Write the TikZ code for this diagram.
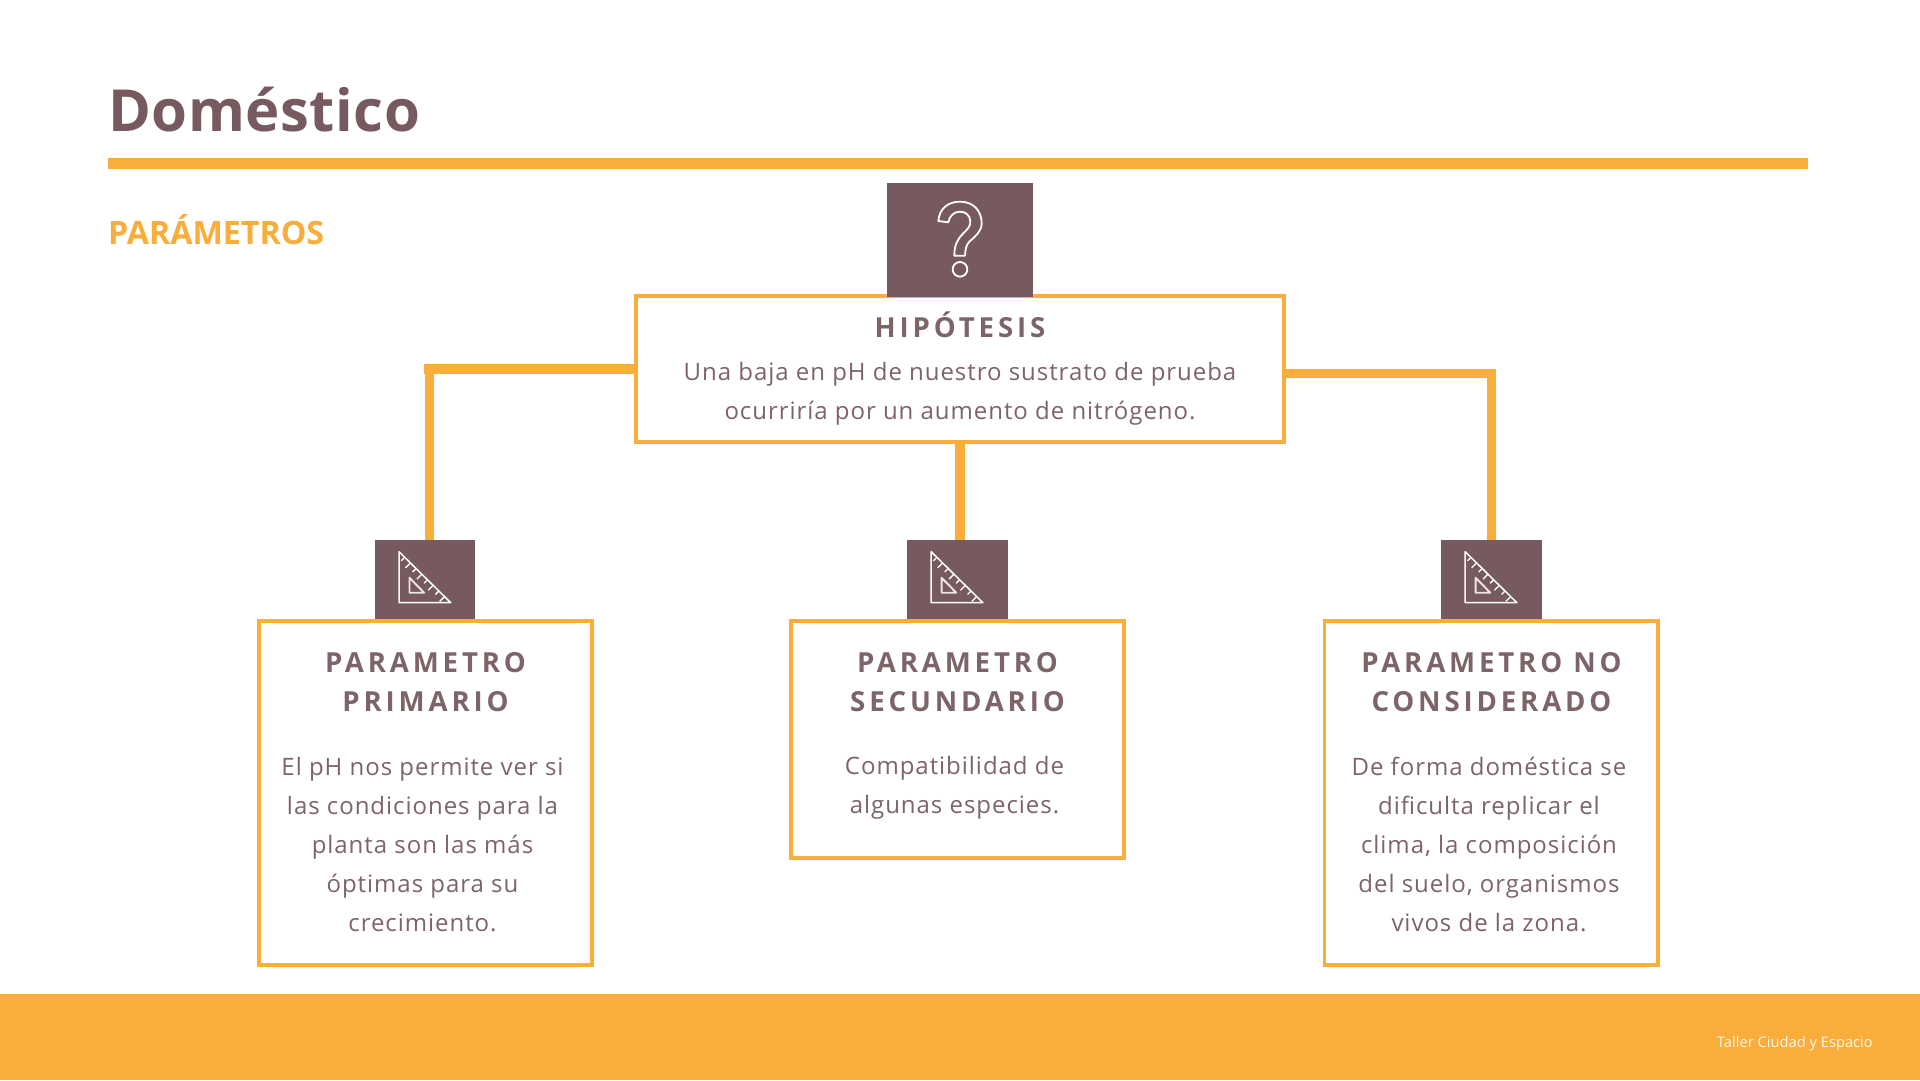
\documentclass[tikz,border=0pt]{standalone}
\usepackage{fontspec}
\setmainfont{Open Sans}
\newfontfamily\bodyfont[LetterSpace=4]{Open Sans}
\newfontfamily\headfont[LetterSpace=14,BoldFont={Open Sans Bold}]{Open Sans}
\newfontfamily\titlefont[LetterSpace=1]{Open Sans}
\definecolor{brownc}{HTML}{775A5F}
\definecolor{bodyc}{HTML}{7D6468}
\definecolor{orangec}{HTML}{F9AD3A}
\tikzset{
  x=1pt,y=-1pt,
  panel/.style={draw=orangec,line width=3.8pt,fill=white,inner sep=0pt,outer sep=0pt},
  iconbox/.style={fill=brownc,inner sep=0pt,outer sep=0pt},
  conn/.style={draw=orangec,line width=9.6pt,line join=miter},
  bodytext/.style={text=bodyc,align=center,inner sep=0pt,font=\fontsize{24}{39}\selectfont\bodyfont},
  headtext/.style={text=bodyc,align=center,inner sep=0pt,font=\fontsize{27.6}{39}\selectfont\headfont\bfseries},
  glyph/.style={draw=white,line width=1.5pt,line join=round},
  squarepic/.pic={
    \draw[glyph] (24.3,11.7) -- (24.3,62.7) -- (76,62.7) -- cycle;
    \draw[glyph,line width=1.9pt,draw=white!85!brownc] (34.7,37.7) -- (34.7,52.7) -- (49.3,52.7) -- cycle;
    \foreach \t/\l in {0.11/5,0.22/7,0.33/5,0.44/7,0.55/5,0.66/7,0.77/5,0.88/7}{
      \draw[white,line width=1.3pt] ({24.3+\t*51.7},{11.7+\t*51}) -- ++({-0.7*\l},{0.7*\l});
    }
  }
}
\begin{document}
\begin{tikzpicture}
\useasboundingbox (0,0) rectangle (1920,1080);
\fill[white] (0,0) rectangle (1920,1080);
% fixed bands
\node[fill=orangec,inner sep=0pt,minimum width=1700pt,minimum height=11pt,anchor=north west] (rule) at (108,158) {};
\node[fill=orangec,inner sep=0pt,minimum width=1920pt,minimum height=86pt,anchor=north west] (band) at (0,994) {};
\node[anchor=base west,inner sep=0pt,text=brownc,font=\fontsize{58}{60}\selectfont\titlefont\bfseries] (title) at (108,131) {Doméstico};
\node[anchor=base west,inner sep=0pt,text=orangec,font=\fontsize{32.2}{36}\selectfont\bfseries] (section) at (108,244.5) {PARÁMETROS};
\node[anchor=base east,inner sep=0pt,text=white!90!orangec,font=\fontsize{14.7}{18}\selectfont] (foot) at (1873,1047) {Taller Ciudad y Espacio};
% panels
\node[panel,minimum width=648pt,minimum height=146pt] (hyp) at (960,369) {};
\node[iconbox,minimum width=146pt,minimum height=114pt] (qbox) at (960,240) {};
\node[panel,minimum width=333.5pt,minimum height=344.5pt] (p1) at (425.5,793) {};
\node[panel,minimum width=333.5pt,minimum height=237.5pt] (p2) at (957.5,739.5) {};
\node[panel,minimum width=333.5pt,minimum height=344.5pt] (p3) at (1491.3,793) {};
\node[iconbox,minimum width=100.5pt,minimum height=79pt] (i1) at (425,579.5) {};
\node[iconbox,minimum width=101pt,minimum height=79pt] (i2) at (957.4,579.5) {};
\node[iconbox,minimum width=101pt,minimum height=79pt] (i3) at (1491.4,579.5) {};
% connectors
\coordinate (lc) at (423.5,369);
\draw[conn] (hyp.west |- lc) -- (lc);
\draw[conn] ([xshift=4.5pt]i1.north) -- ([xshift=4.5pt]i1.north |- 0,364);
\draw[conn] (hyp.south) -- (hyp.south |- i2.north);
\draw[conn] ([yshift=-4.5pt]hyp.east) -| (i3.north);
% icons
\begin{scope}[shift={(860,170)},x=0.3333pt,y=-0.3333pt]
\draw[glyph,line width=1.8pt] (235,153) .. controls (238,115) and (265,95) .. (300,95) .. controls (340,95) and (365,122) .. (365,160) .. controls (365,185) and (345,200) .. (328,215) .. controls (318,225) and (316,240) .. (315,257) -- (283,257) .. controls (283,225) and (292,208) .. (310,190) .. controls (322,178) and (331,170) .. (331,155) .. controls (331,137) and (318,125) .. (300,125) .. controls (282,125) and (268,138) .. (265,157) -- cycle;
\draw[glyph,line width=1.8pt] (300,298) circle (22);
\end{scope}
\path (i1.north west) pic {squarepic};
\path (i2.north west) pic {squarepic};
\path (i3.north west) pic {squarepic};
% texts
\node[headtext] (hypT) at (960,324.6) {HIPÓTESIS};
\node[bodytext] (hypB) at (960,393.5) {Una baja en pH de nuestro sustrato de prueba\\ocurriría por un aumento de nitrógeno.};
\node[headtext] (p1T) at (425.5,682.5) {PARAMETRO\\PRIMARIO};
\node[headtext] (p2T) at (957.5,682.5) {PARAMETRO\\SECUNDARIO};
\node[headtext] (p3T) at (1491.5,682.5) {PARAMETRO NO\\CONSIDERADO};
\node[bodytext] (p1B) at (422.5,845) {El pH nos permite ver si\\las condiciones para la\\planta son las más\\óptimas para su\\crecimiento.};
\node[bodytext] (p2B) at (954.5,788) {Compatibilidad de\\algunas especies.};
\node[bodytext] (p3B) at (1489,844.5) {De forma doméstica se\\dificulta replicar el\\clima, la composición\\del suelo, organismos\\vivos de la zona.};
\end{tikzpicture}
\end{document}
